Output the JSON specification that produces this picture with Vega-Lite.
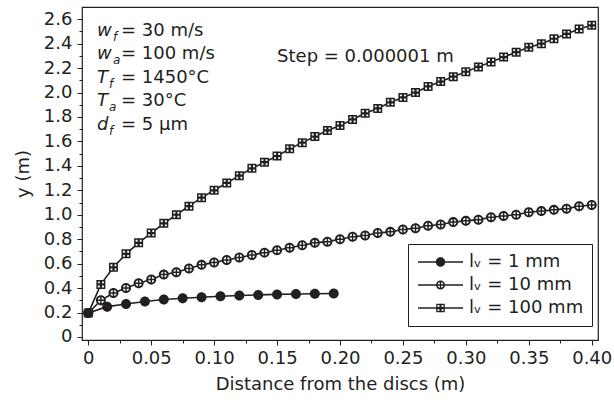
{
  "$schema": "https://vega.github.io/schema/vega-lite/v6.json",
  "width": 516,
  "height": 333,
  "autosize": {"type": "none"},
  "padding": {"left": 82, "top": 7, "right": 16, "bottom": 63},
  "background": "white",
  "datasets": {
    "curves": [
      {"s": "1 mm", "x": 0, "y": 0.195},
      {"s": "1 mm", "x": 0.015, "y": 0.248},
      {"s": "1 mm", "x": 0.03, "y": 0.27},
      {"s": "1 mm", "x": 0.045, "y": 0.29},
      {"s": "1 mm", "x": 0.06, "y": 0.306},
      {"s": "1 mm", "x": 0.075, "y": 0.317},
      {"s": "1 mm", "x": 0.09, "y": 0.325},
      {"s": "1 mm", "x": 0.105, "y": 0.333},
      {"s": "1 mm", "x": 0.12, "y": 0.339},
      {"s": "1 mm", "x": 0.135, "y": 0.344},
      {"s": "1 mm", "x": 0.15, "y": 0.348},
      {"s": "1 mm", "x": 0.165, "y": 0.351},
      {"s": "1 mm", "x": 0.18, "y": 0.354},
      {"s": "1 mm", "x": 0.195, "y": 0.356},
      {"s": "10 mm", "x": 0, "y": 0.195},
      {"s": "10 mm", "x": 0.01, "y": 0.3},
      {"s": "10 mm", "x": 0.02, "y": 0.36},
      {"s": "10 mm", "x": 0.03, "y": 0.4},
      {"s": "10 mm", "x": 0.04, "y": 0.44},
      {"s": "10 mm", "x": 0.05, "y": 0.47},
      {"s": "10 mm", "x": 0.06, "y": 0.51},
      {"s": "10 mm", "x": 0.07, "y": 0.53},
      {"s": "10 mm", "x": 0.08, "y": 0.56},
      {"s": "10 mm", "x": 0.09, "y": 0.59},
      {"s": "10 mm", "x": 0.1, "y": 0.61},
      {"s": "10 mm", "x": 0.11, "y": 0.63},
      {"s": "10 mm", "x": 0.12, "y": 0.65},
      {"s": "10 mm", "x": 0.13, "y": 0.67},
      {"s": "10 mm", "x": 0.14, "y": 0.69},
      {"s": "10 mm", "x": 0.15, "y": 0.71},
      {"s": "10 mm", "x": 0.16, "y": 0.73},
      {"s": "10 mm", "x": 0.17, "y": 0.75},
      {"s": "10 mm", "x": 0.18, "y": 0.77},
      {"s": "10 mm", "x": 0.19, "y": 0.78},
      {"s": "10 mm", "x": 0.2, "y": 0.8},
      {"s": "10 mm", "x": 0.21, "y": 0.82},
      {"s": "10 mm", "x": 0.22, "y": 0.83},
      {"s": "10 mm", "x": 0.23, "y": 0.85},
      {"s": "10 mm", "x": 0.24, "y": 0.86},
      {"s": "10 mm", "x": 0.25, "y": 0.88},
      {"s": "10 mm", "x": 0.26, "y": 0.89},
      {"s": "10 mm", "x": 0.27, "y": 0.91},
      {"s": "10 mm", "x": 0.28, "y": 0.92},
      {"s": "10 mm", "x": 0.29, "y": 0.94},
      {"s": "10 mm", "x": 0.3, "y": 0.95},
      {"s": "10 mm", "x": 0.31, "y": 0.96},
      {"s": "10 mm", "x": 0.32, "y": 0.98},
      {"s": "10 mm", "x": 0.33, "y": 0.99},
      {"s": "10 mm", "x": 0.34, "y": 1.0},
      {"s": "10 mm", "x": 0.35, "y": 1.02},
      {"s": "10 mm", "x": 0.36, "y": 1.03},
      {"s": "10 mm", "x": 0.37, "y": 1.04},
      {"s": "10 mm", "x": 0.38, "y": 1.05},
      {"s": "10 mm", "x": 0.39, "y": 1.07},
      {"s": "10 mm", "x": 0.4, "y": 1.08},
      {"s": "100 mm", "x": 0, "y": 0.195},
      {"s": "100 mm", "x": 0.01, "y": 0.43},
      {"s": "100 mm", "x": 0.02, "y": 0.57},
      {"s": "100 mm", "x": 0.03, "y": 0.68},
      {"s": "100 mm", "x": 0.04, "y": 0.77},
      {"s": "100 mm", "x": 0.05, "y": 0.85},
      {"s": "100 mm", "x": 0.06, "y": 0.93},
      {"s": "100 mm", "x": 0.07, "y": 1.0},
      {"s": "100 mm", "x": 0.08, "y": 1.07},
      {"s": "100 mm", "x": 0.09, "y": 1.14},
      {"s": "100 mm", "x": 0.1, "y": 1.2},
      {"s": "100 mm", "x": 0.11, "y": 1.26},
      {"s": "100 mm", "x": 0.12, "y": 1.32},
      {"s": "100 mm", "x": 0.13, "y": 1.38},
      {"s": "100 mm", "x": 0.14, "y": 1.43},
      {"s": "100 mm", "x": 0.15, "y": 1.48},
      {"s": "100 mm", "x": 0.16, "y": 1.54},
      {"s": "100 mm", "x": 0.17, "y": 1.59},
      {"s": "100 mm", "x": 0.18, "y": 1.64},
      {"s": "100 mm", "x": 0.19, "y": 1.69},
      {"s": "100 mm", "x": 0.2, "y": 1.73},
      {"s": "100 mm", "x": 0.21, "y": 1.78},
      {"s": "100 mm", "x": 0.22, "y": 1.83},
      {"s": "100 mm", "x": 0.23, "y": 1.87},
      {"s": "100 mm", "x": 0.24, "y": 1.92},
      {"s": "100 mm", "x": 0.25, "y": 1.96},
      {"s": "100 mm", "x": 0.26, "y": 2.0},
      {"s": "100 mm", "x": 0.27, "y": 2.05},
      {"s": "100 mm", "x": 0.28, "y": 2.09},
      {"s": "100 mm", "x": 0.29, "y": 2.13},
      {"s": "100 mm", "x": 0.3, "y": 2.17},
      {"s": "100 mm", "x": 0.31, "y": 2.21},
      {"s": "100 mm", "x": 0.32, "y": 2.25},
      {"s": "100 mm", "x": 0.33, "y": 2.29},
      {"s": "100 mm", "x": 0.34, "y": 2.33},
      {"s": "100 mm", "x": 0.35, "y": 2.37},
      {"s": "100 mm", "x": 0.36, "y": 2.4},
      {"s": "100 mm", "x": 0.37, "y": 2.44},
      {"s": "100 mm", "x": 0.38, "y": 2.48},
      {"s": "100 mm", "x": 0.39, "y": 2.52},
      {"s": "100 mm", "x": 0.4, "y": 2.55}
    ],
    "ann": [
      {"v": "w", "sub": "f", "r": "= 30 m/s", "x": 0.0069, "y": 2.502},
      {"v": "w", "sub": "a", "r": "= 100 m/s", "x": 0.0069, "y": 2.315},
      {"v": "T", "sub": "f", "r": "= 1450°C", "x": 0.0069, "y": 2.123},
      {"v": "T", "sub": "a", "r": "= 30°C", "x": 0.0069, "y": 1.932},
      {"v": "d", "sub": "f", "r": "= 5 μm", "x": 0.0069, "y": 1.738}
    ],
    "note": [
      {"t": "Step = 0.000001 m", "x": 0.15, "y": 2.29}
    ]
  },
  "config": {
    "font": "DejaVu Sans",
    "view": {"stroke": "#231f20", "strokeWidth": 1.2},
    "axis": {
      "grid": false,
      "domain": false,
      "tickColor": "#231f20",
      "tickWidth": 1,
      "labelColor": "#231f20",
      "labelFont": "DejaVu Sans",
      "labelFontSize": 18,
      "titleFont": "DejaVu Sans",
      "titleFontSize": 18,
      "titleFontWeight": "normal",
      "titleColor": "#231f20"
    }
  },
  "resolve": {
    "scale": {"shape": "independent"},
    "axis": {"x": "independent", "y": "independent"}
  },
  "layer": [
    {
      "data": {"name": "curves"},
      "mark": {"type": "line", "color": "#231f20", "strokeWidth": 1.6},
      "encoding": {
        "x": {
          "field": "x", "type": "quantitative",
          "scale": {"domain": [-0.005, 0.405], "nice": false, "zero": false},
          "axis": {
            "orient": "bottom",
            "title": "Distance from the discs (m)",
            "values": [0, 0.05, 0.1, 0.15, 0.2, 0.25, 0.3, 0.35, 0.4],
            "labelExpr": "datum.value == 0 ? '0' : format(datum.value, '.2f')",
            "tickSize": 5,
            "labelPadding": 4,
            "titlePadding": 8,
            "labelFlush": false,
            "labelOverlap": false
          }
        },
        "y": {
          "field": "y", "type": "quantitative",
          "scale": {"domain": [-0.025, 2.7], "nice": false, "zero": false},
          "axis": {
            "orient": "left",
            "title": "y (m)",
            "values": [0, 0.2, 0.4, 0.6, 0.8, 1.0, 1.2, 1.4, 1.6, 1.8, 2.0, 2.2, 2.4, 2.6],
            "labelExpr": "datum.value == 0 ? '0' : format(datum.value, '.1f')",
            "tickSize": 5,
            "labelPadding": 5,
            "titlePadding": 11,
            "labelFlush": false,
            "labelOverlap": false
          }
        },
        "detail": {"field": "s", "type": "nominal"}
      }
    },
    {
      "data": {"name": "curves"},
      "mark": {"type": "point", "shape": "circle", "filled": true, "fill": "white", "size": 78, "opacity": 1, "strokeWidth": 0},
      "encoding": {
        "x": {
          "field": "x", "type": "quantitative",
          "axis": {
            "orient": "bottom", "title": null, "labels": false, "tickSize": 3,
            "values": [0.025, 0.075, 0.125, 0.175, 0.225, 0.275, 0.325, 0.375]
          }
        },
        "y": {
          "field": "y", "type": "quantitative",
          "axis": {
            "orient": "left", "title": null, "labels": false, "tickSize": 3,
            "values": [0.1, 0.3, 0.5, 0.7, 0.9, 1.1, 1.3, 1.5, 1.7, 1.9, 2.1, 2.3, 2.5]
          }
        }
      }
    },
    {
      "data": {"name": "curves"},
      "mark": {"type": "point", "filled": true, "size": 100, "opacity": 1, "color": "#231f20", "strokeWidth": 0},
      "encoding": {
        "x": {"field": "x", "type": "quantitative", "axis": null},
        "y": {"field": "y", "type": "quantitative", "axis": null},
        "shape": {
          "field": "s", "type": "nominal",
          "scale": {
            "domain": ["1 mm", "10 mm", "100 mm"],
            "range": [
              "M1,0A1,1 0 1,1 -1,0A1,1 0 1,1 1,0Z",
              "M1,0A1,1 0 1,1 -1,0A1,1 0 1,1 1,0Z M0.64,0A0.64,0.64 0 1,0 -0.64,0A0.64,0.64 0 1,0 0.64,0Z M-0.66,-0.15H0.66V0.15H-0.66Z M-0.15,-0.66H0.15V0.66H-0.15Z",
              "M-0.9,-0.9H0.9V0.9H-0.9Z M-0.6,-0.6V-0.22H-0.22V-0.6Z M0.22,-0.6V-0.22H0.6V-0.6Z M-0.6,0.22V0.6H-0.22V0.22Z M0.22,0.22V0.6H0.6V0.22Z"
            ]
          },
          "legend": null
        }
      }
    },
    {
      "data": {"name": "curves"},
      "transform": [{"filter": "false"}],
      "mark": {"type": "point", "filled": true, "opacity": 1, "color": "#231f20", "strokeWidth": 0},
      "encoding": {
        "x": {"field": "x", "type": "quantitative", "axis": null},
        "y": {"field": "y", "type": "quantitative", "axis": null},
        "shape": {
          "field": "s", "type": "nominal",
          "scale": {
            "domain": ["1 mm", "10 mm", "100 mm"],
            "range": [
              "M-1,-0.032H1V0.032H-1Z M0.21,0A0.21,0.21 0 1,1 -0.21,0A0.21,0.21 0 1,1 0.21,0Z",
              "M-1,-0.032H1V0.032H-1Z M0.2,0A0.2,0.2 0 1,1 -0.2,0A0.2,0.2 0 1,1 0.2,0Z M0.13,0A0.13,0.13 0 1,0 -0.13,0A0.13,0.13 0 1,0 0.13,0Z M-0.135,-0.032H0.135V0.032H-0.135Z M-0.032,-0.135H0.032V0.135H-0.032Z",
              "M-1,-0.032H1V0.032H-1Z M-0.19,-0.19H0.19V0.19H-0.19Z M-0.13,-0.13V-0.05H-0.05V-0.13Z M0.05,-0.13V-0.05H0.13V-0.13Z M-0.13,0.05V0.13H-0.05V0.05Z M0.05,0.05V0.13H0.13V0.05Z"
            ]
          },
          "legend": {
            "orient": "none",
            "legendX": 326,
            "legendY": 237,
            "title": null,
            "direction": "vertical",
            "padding": 8,
            "strokeColor": "#231f20",
            "fillColor": "white",
            "clipHeight": 20,
            "rowPadding": 3,
            "symbolSize": 2025,
            "symbolOffset": 2,
            "symbolStrokeWidth": 0,
            "symbolFillColor": "#231f20",
            "symbolOpacity": 1,
            "labelOffset": 6,
            "labelFont": "DejaVu Sans",
            "labelFontSize": 18,
            "labelColor": "#231f20",
            "labelExpr": "'lᵥ = ' + datum.label"
          }
        }
      }
    },
    {
      "data": {"name": "ann"},
      "mark": {"type": "text", "align": "left", "baseline": "middle", "fontStyle": "italic", "fontSize": 18, "color": "#231f20"},
      "encoding": {
        "x": {"field": "x", "type": "quantitative", "axis": null},
        "y": {"field": "y", "type": "quantitative", "axis": null},
        "text": {"field": "v"}
      }
    },
    {
      "data": {"name": "ann"},
      "transform": [{"filter": "datum.v == 'w'"}],
      "mark": {"type": "text", "align": "left", "baseline": "middle", "fontStyle": "italic", "fontSize": 12, "dx": 16, "dy": 6, "color": "#231f20"},
      "encoding": {
        "x": {"field": "x", "type": "quantitative", "axis": null},
        "y": {"field": "y", "type": "quantitative", "axis": null},
        "text": {"field": "sub"}
      }
    },
    {
      "data": {"name": "ann"},
      "transform": [{"filter": "datum.v != 'w'"}],
      "mark": {"type": "text", "align": "left", "baseline": "middle", "fontStyle": "italic", "fontSize": 12, "dx": 12, "dy": 6, "color": "#231f20"},
      "encoding": {
        "x": {"field": "x", "type": "quantitative", "axis": null},
        "y": {"field": "y", "type": "quantitative", "axis": null},
        "text": {"field": "sub"}
      }
    },
    {
      "data": {"name": "ann"},
      "mark": {"type": "text", "align": "left", "baseline": "middle", "fontSize": 18, "dx": 24, "color": "#231f20"},
      "encoding": {
        "x": {"field": "x", "type": "quantitative", "axis": null},
        "y": {"field": "y", "type": "quantitative", "axis": null},
        "text": {"field": "r"}
      }
    },
    {
      "data": {"name": "note"},
      "mark": {"type": "text", "align": "left", "baseline": "middle", "fontSize": 18, "color": "#231f20"},
      "encoding": {
        "x": {"field": "x", "type": "quantitative", "axis": null},
        "y": {"field": "y", "type": "quantitative", "axis": null},
        "text": {"field": "t"}
      }
    }
  ]
}
